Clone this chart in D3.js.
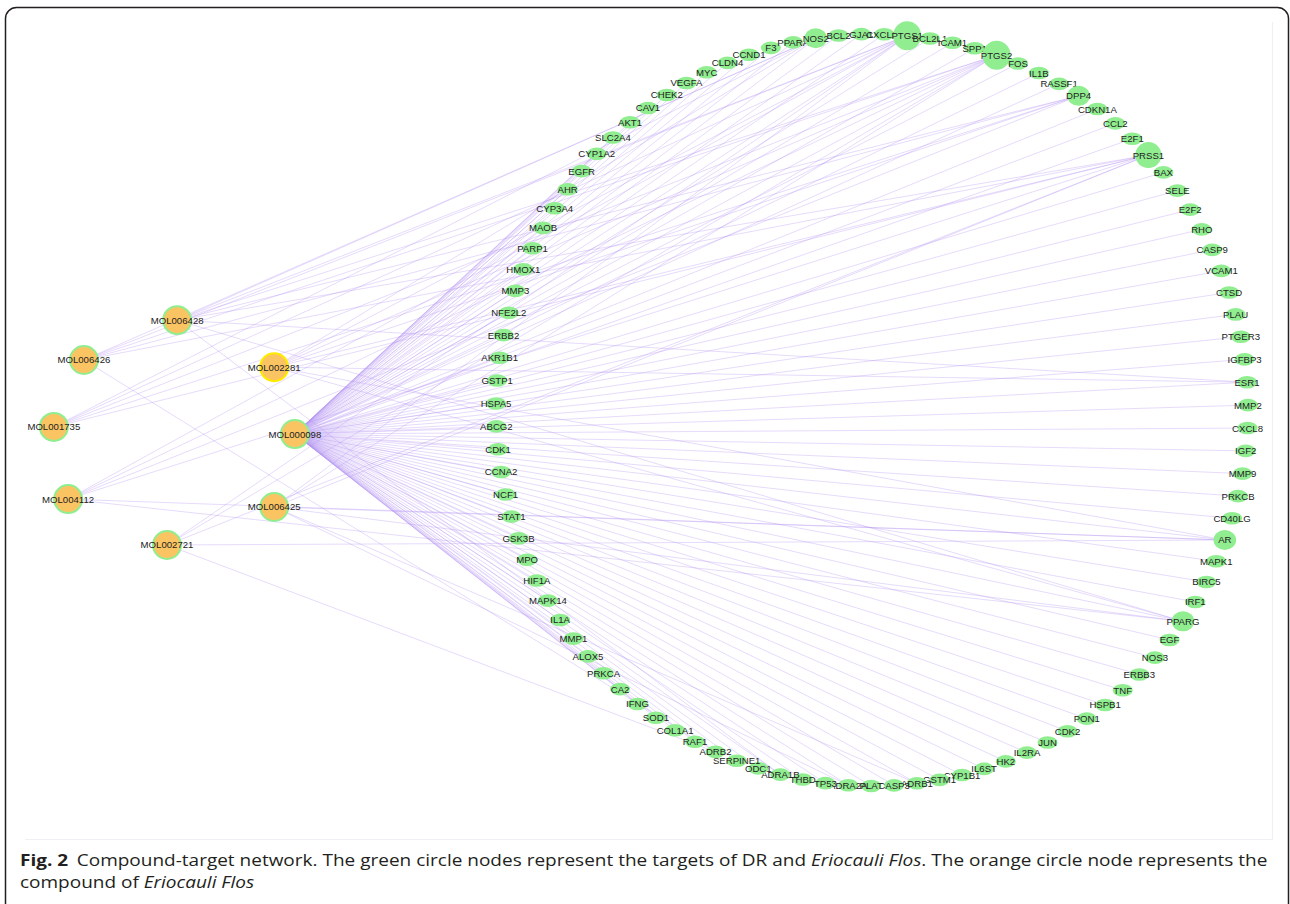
<!DOCTYPE html>
<html>
<head>
<meta charset="utf-8">
<script src="https://cdn.jsdelivr.net/npm/d3@7"></script>
<style>
  html, body { margin: 0; padding: 0; background: #fff; }
  svg { display: block; }
  .caption text { white-space: pre; }
</style>
</head>
<body>
<svg id="chart" width="1290" height="904"></svg>
<script>
// ---- Targets, in circular-layout order (clockwise from the top) ----
const targets = [
  "F3","PPARA","NOS2","BCL2","GJA1","CXCL10","PTGS1","BCL2L1","ICAM1","SPP1",
  "PTGS2","FOS","IL1B","RASSF1","DPP4","CDKN1A","CCL2","E2F1","PRSS1","BAX",
  "SELE","E2F2","RHO","CASP9","VCAM1","CTSD","PLAU","PTGER3","IGFBP3","ESR1",
  "MMP2","CXCL8","IGF2","MMP9","PRKCB","CD40LG","AR","MAPK1","BIRC5","IRF1",
  "PPARG","EGF","NOS3","ERBB3","TNF","HSPB1","PON1","CDK2","JUN","IL2RA",
  "HK2","IL6ST","CYP1B1","GSTM1","ADRB1","CASP3","PLAT","ADRA2A","TP53","THBD",
  "ADRA1B","ODC1","SERPINE1","ADRB2","RAF1","COL1A1","SOD1","IFNG","CA2","PRKCA",
  "ALOX5","MMP1","IL1A","MAPK14","HIF1A","MPO","GSK3B","STAT1","NCF1","CCNA2",
  "CDK1","ABCG2","HSPA5","GSTP1","AKR1B1","ERBB2","NFE2L2","MMP3","HMOX1","PARP1",
  "MAOB","CYP3A4","AHR","EGFR","CYP1A2","SLC2A4","AKT1","CAV1","CHEK2","VEGFA",
  "MYC","CLDN4","CCND1"
];

// ---- Compounds and their layout coordinates (unit = ring radius, origin = ring centre) ----
const compounds = ["MOL006428","MOL006426","MOL002281","MOL001735","MOL000098","MOL004112","MOL006425","MOL002721"];
const compoundLayoutX = [-1.848, -2.096, -1.590, -2.176, -1.535, -2.138, -1.590, -1.875];
const compoundLayoutY = [-0.239, -0.133, -0.114,  0.045,  0.064,  0.237,  0.258,  0.359];
const highlightedCompound = "MOL002281";

// ---- Compound-target links ----
const linksMOL006428 = ["PTGS1","PTGS2","PRSS1","DPP4","NOS2","PPARG","ESR1","ADRA1B"];
const linksMOL006426 = ["PTGS1","PTGS2","PRSS1","DPP4","NOS2","ADRB2"];
const linksMOL002281 = ["PTGS1","PTGS2","PRSS1","DPP4","NOS2","AR","PPARG","ESR1"];
const linksMOL001735 = ["PTGS1","PTGS2","PRSS1","DPP4","NOS2"];
const linksMOL004112 = ["PTGS1","PTGS2","PRSS1","DPP4","AR","PPARG"];
const linksMOL006425 = ["PTGS1","PTGS2","PRSS1","AR","PPARG","ADRB1","ADRA2A"];
const linksMOL002721 = ["PTGS1","PTGS2","PRSS1","AR","ADRB2"];
// MOL000098 reaches every target except these
const notLinkedMOL000098 = ["PRSS1","DPP4"];

const svg = d3.select("#chart");

// ---- Frame ----
svg.append("rect")
  .attr("x", 5.5).attr("y", 7.5).attr("width", 1283).attr("height", 1000)
  .attr("rx", 11).attr("ry", 11)
  .attr("fill", "#fff").attr("stroke", "#231f20").attr("stroke-width", 1.5);

// faint border of the network panel
svg.append("path")
  .attr("d", "M1272.5,22 V839.5 H25")
  .attr("fill", "none").attr("stroke", "#eef0f3").attr("stroke-width", 1.2);

// ---- Layout scales ----
const ringCx = 872, ringCy = 410, ringR = 376;
const x = d3.scaleLinear().domain([-1, 1]).range([ringCx - ringR, ringCx + ringR]);
const y = d3.scaleLinear().domain([-1, 1]).range([ringCy - ringR, ringCy + ringR]);
const startAngle = -105.6 * Math.PI / 180;
const angle = d3.scaleLinear().domain([0, targets.length]).range([startAngle, startAngle + 2 * Math.PI]);

const nodes = new Map();
targets.forEach((t, i) => {
  const a = angle(i);
  nodes.set(t, { id: t, kind: "target", lx: Math.cos(a), ly: Math.sin(a), degree: 0 });
});
compounds.forEach((c, i) => {
  nodes.set(c, { id: c, kind: "compound", lx: compoundLayoutX[i], ly: compoundLayoutY[i], degree: 0 });
});

const links = [];
const addLinks = (src, list) => list.forEach(t => links.push({ source: src, target: t }));
addLinks("MOL006428", linksMOL006428);
addLinks("MOL006426", linksMOL006426);
addLinks("MOL002281", linksMOL002281);
addLinks("MOL001735", linksMOL001735);
addLinks("MOL000098", targets.filter(t => !notLinkedMOL000098.includes(t)));
addLinks("MOL004112", linksMOL004112);
addLinks("MOL006425", linksMOL006425);
addLinks("MOL002721", linksMOL002721);
links.forEach(l => { nodes.get(l.source).degree++; nodes.get(l.target).degree++; });

// node size grows with degree
const rxScale = d3.scaleLinear().domain([3, 5, 8]).range([10, 11.3, 14]).clamp(true);
const ryScale = d3.scaleLinear().domain([3, 5, 8]).range([6.3, 10, 14.5]).clamp(true);

// ---- Edges ----
svg.append("g")
  .attr("stroke", "#b28ef2").attr("stroke-opacity", 0.32).attr("stroke-width", 1)
  .selectAll("line").data(links).join("line")
  .attr("x1", d => x(nodes.get(d.source).lx))
  .attr("y1", d => y(nodes.get(d.source).ly))
  .attr("x2", d => x(nodes.get(d.target).lx))
  .attr("y2", d => y(nodes.get(d.target).ly));

const labelFont = "'Liberation Sans', Arial, Helvetica, sans-serif";

// ---- Target nodes ----
const tg = svg.append("g").selectAll("g")
  .data(targets.map(t => nodes.get(t))).join("g")
  .attr("transform", d => `translate(${x(d.lx)},${y(d.ly)})`);
tg.append("ellipse")
  .attr("rx", d => rxScale(d.degree)).attr("ry", d => ryScale(d.degree))
  .attr("fill", "#90ee90");
tg.append("text")
  .attr("text-anchor", "middle").attr("dy", "0.36em")
  .attr("font-family", labelFont).attr("font-size", 9.6)
  .attr("fill", "#222")
  .text(d => d.id);

// ---- Compound nodes ----
const cg = svg.append("g").selectAll("g")
  .data(compounds.map(c => nodes.get(c))).join("g")
  .attr("transform", d => `translate(${x(d.lx)},${y(d.ly)})`);
cg.append("circle")
  .attr("r", 14)
  .attr("fill", "#fbc463")
  .attr("stroke", d => d.id === highlightedCompound ? "#ffea00" : "#90ee90")
  .attr("stroke-width", 2);
cg.append("text")
  .attr("text-anchor", "middle").attr("dy", "0.36em")
  .attr("font-family", labelFont).attr("font-size", 9.6)
  .attr("fill", "#222")
  .text(d => d.id);

// ---- Caption ----
const capFont = "'Open Sans', 'Noto Sans', sans-serif";
const cap = svg.append("g").attr("class", "caption")
  .attr("font-family", capFont).attr("font-size", 15.5).attr("fill", "#231f20");
const line1 = cap.append("text").attr("x", 0).attr("y", 0);
line1.append("tspan").attr("font-weight", 700).text("Fig. 2");
line1.append("tspan").attr("dx", 7).text("Compound-target network. The green circle nodes represent the targets of DR and ");
line1.append("tspan").attr("font-style", "italic").text("Eriocauli Flos");
line1.append("tspan").text(". The orange circle node represents the");
const line2 = cap.append("text").attr("x", 0).attr("y", 22.5);
line2.append("tspan").text("compound of ");
line2.append("tspan").attr("font-style", "italic").text("Eriocauli Flos");

const w1 = line1.node().getComputedTextLength();
const sx = 1240 / w1;
cap.attr("transform", `translate(20,866) scale(${sx},1)`);
</script>
</body>
</html>
